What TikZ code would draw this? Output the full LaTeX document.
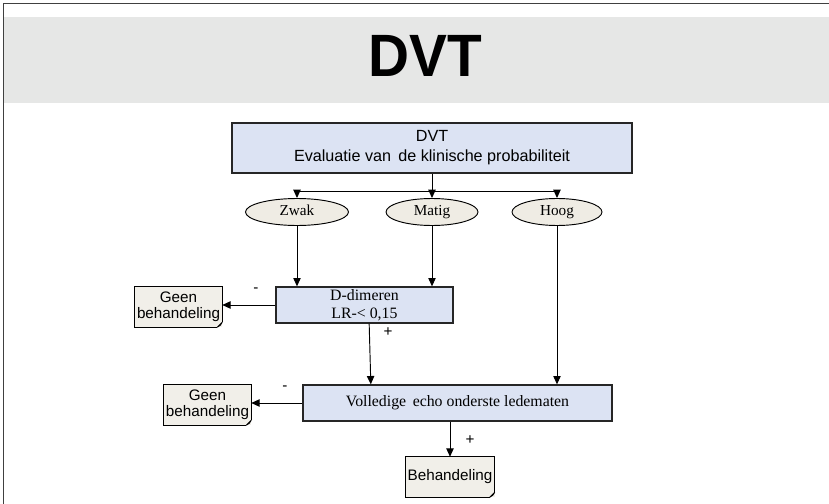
\documentclass[tikz,border=0pt]{standalone}
\usepackage{fontspec}
\usepackage{graphicx}
\setmainfont{Liberation Serif}
\setsansfont{Liberation Sans}
\usetikzlibrary{arrows.meta,shapes.geometric}

\definecolor{bandgray}{HTML}{E6E7E6}
\definecolor{boxblue}{HTML}{DCE3F3}
\definecolor{ovalbeige}{HTML}{EFECE4}
\definecolor{notebeige}{HTML}{F1EFE9}

\tikzset{
  stapbox/.style={draw=black!85, line width=1.1pt, fill=boxblue, inner sep=0pt, align=center},
  kans/.style={ellipse, draw=black, line width=0.8pt, fill=ovalbeige, inner sep=0pt, minimum height=0.81cm,
    text height=1.6ex, text depth=0.3ex, font=\fontsize{13}{13}\selectfont},
  notitie/.style={fill=notebeige, inner sep=0pt, minimum width=2.61cm, minimum height=1.2cm, align=center, font=\sffamily\fontsize{13}{14}\selectfont},
  pijl/.style={-{Triangle[length=0.25cm,width=0.22cm]}, line width=0.8pt},
  teken/.style={font=\sffamily\fontsize{13}{13}\selectfont, inner sep=0pt}
}

\begin{document}
\begin{tikzpicture}[x=0.03cm, y=-0.03cm]
        \useasboundingbox (0,0) rectangle (829,504);

        % Kader en titel
        \fill[bandgray] (3,17) rectangle (829,103);
        \draw[black!75, line width=0.8pt] (3,504) -- (3,3) -- (829,3);
        \node (titel) at (425,56) {\sffamily\bfseries\fontsize{51}{51}\selectfont\scalebox{0.95}[1]{DVT}};

        % Klinische probabiliteit
        \node[stapbox, minimum width=12cm, minimum height=1.5cm, font=\sffamily\fontsize{13.8}{17}\selectfont] (dvt) at (432,148)
          {DVT\\Evaluatie van \,de klinische probabiliteit};
        \node[kans, minimum width=3.09cm] (zwak) at (297,212) {Zwak};
        \node[kans, minimum width=2.76cm] (matig) at (432,212) {Matig};
        \node[kans, minimum width=2.7cm] (hoog) at (557,212) {Hoog};
        \coordinate (splits) at (432,191);

        % Onderzoeken
        \node[stapbox, minimum width=5.31cm, minimum height=1.08cm, font=\fontsize{13.5}{15}\selectfont] (ddimeer) at (364.5,305)
          {D-dimeren\\LR-< 0,15};
        \node[stapbox, minimum width=9.27cm, minimum height=1.08cm, font=\fontsize{13.5}{15}\selectfont] (echo) at (457.5,403)
          {Volledige \,echo onderste ledematen};

        % Besluit
        \node[notitie] (geen1) at (178.5,307) {Geen\\behandeling};
        \node[notitie] (geen2) at (207.5,405) {Geen\\behandeling};
        \node[notitie, minimum width=2.67cm] (behand) at (450,477) {Behandeling};
        \foreach \n in {geen1,geen2,behand} {
          \draw[line width=0.8pt] ([yshift=0.15cm]\n.south east) -- (\n.north east) -- (\n.north west)
            -- (\n.south west) -- ([xshift=-0.15cm]\n.south east);
          \draw[line width=0.8pt, fill=black!60] ([xshift=-0.15cm]\n.south east) -- ([yshift=0.15cm]\n.south east)
            -- ([xshift=-0.06cm,yshift=0.06cm]\n.south east) -- cycle;
        }

        % Verbindingen
        \draw[line width=0.8pt] (dvt.south) -- (splits);
        \draw[line width=0.8pt] (zwak.north |- splits) -- (hoog.north |- splits);
        \draw[pijl] (zwak.north |- splits) -- (zwak.north);
        \draw[pijl] (splits) -- (matig.north);
        \draw[pijl] (hoog.north |- splits) -- (hoog.north);
        \draw[pijl] (zwak.south) -- (zwak.south |- ddimeer.north);
        \draw[pijl] (matig.south) -- (matig.south |- ddimeer.north);
        \draw[pijl] (hoog.south) -- (hoog.south |- echo.north);
        \draw[pijl] (ddimeer.west) -- (ddimeer.west -| geen1.east);
        \draw[pijl] ([xshift=0.14cm]ddimeer.south) -- ([xshift=-2.6cm]echo.north);
        \draw[pijl] (echo.west) -- (echo.west -| geen2.east);
        \draw[pijl] (behand.north |- echo.south) -- (behand.north);

        % Tekens
        \node[teken] (min1) at (256,290) {-};
        \node[teken] (plus1) at (388,332) {+};
        \node[teken] (min2) at (285,388) {-};
        \node[teken] (plus2) at (470,440) {+};
\end{tikzpicture}
\end{document}
